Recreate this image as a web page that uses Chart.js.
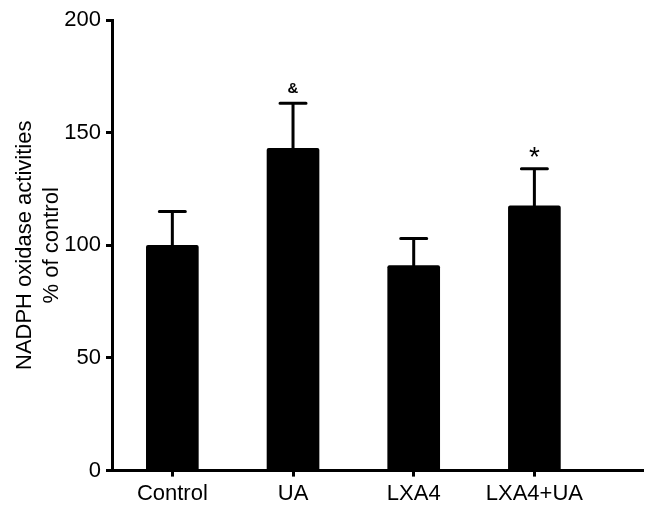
<!DOCTYPE html>
<html>
<head>
<meta charset="utf-8">
<script src="https://cdn.jsdelivr.net/npm/chart.js@4.4.1/dist/chart.umd.min.js"></script>
<style>
  html, body { margin: 0; padding: 0; background: #fff; }
  #wrap { width: 661px; height: 518px; }
</style>
</head>
<body>
<div id="wrap"><canvas id="myChart"></canvas></div>
<script>
// group names on the x axis
const categories = ['Control', 'UA', 'LXA4', 'LXA4+UA'];
// mean values, % of control
const means = [100, 143, 91, 117.5];
// upper error (SD)
const errors = [15, 20, 12, 16.5];
// significance marks above error bars
const marks = ['', '&', '', '*'];
// y axis tick values
const yTicks = [0, 50, 100, 150, 200];

const FONT = 'Liberation Sans, Arial, Helvetica, sans-serif';

// draws error bars + marks from the scales
const errorBarPlugin = {
    id: 'errorBars',
    afterDatasetsDraw(chart) {
        const ctx = chart.ctx;
        const xs = chart.scales.x;
        const ys = chart.scales.y;
        ctx.save();
        ctx.strokeStyle = '#000';
        ctx.lineWidth = 3;
        ctx.lineCap = 'round';
        means.forEach((m, i) => {
            const x = xs.getPixelForValue(i + 1);
            const yTop = ys.getPixelForValue(m);
            const yErr = ys.getPixelForValue(m + errors[i]);
            ctx.beginPath();
            ctx.moveTo(x, yTop);
            ctx.lineTo(x, yErr);
            ctx.moveTo(x - 13, yErr);
            ctx.lineTo(x + 13, yErr);
            ctx.stroke();
            if (marks[i]) {
                ctx.fillStyle = '#000';
                ctx.textAlign = 'center';
                ctx.textBaseline = 'middle';
                if (marks[i] === '*') {
                    ctx.font = '28px ' + FONT;
                    ctx.fillText(marks[i], x, yErr - 10);
                } else {
                    ctx.font = 'bold 15px ' + FONT;
                    ctx.fillText(marks[i], x, yErr - 15);
                }
            }
        });
        ctx.restore();
    }
};

const ctx = document.getElementById('myChart').getContext('2d');
new Chart(ctx, {
    type: 'bar',
    data: {
        datasets: [{
            data: means.map((m, i) => ({ x: i + 1, y: m })),
            backgroundColor: '#000',
            borderWidth: 0,
            borderRadius: 2,
            borderSkipped: 'bottom',
            barThickness: 52,
        }],
    },
    options: {
        responsive: true,
        maintainAspectRatio: false,
        animation: false,
        layout: { padding: { left: 0, right: 18, top: 20, bottom: 7 } },
        plugins: {
            legend: { display: false },
            tooltip: { enabled: false },
        },
        scales: {
            x: {
                type: 'linear',
                min: 0.5,
                max: 4.9,
                offset: false,
                afterBuildTicks: (scale) => {
                    scale.ticks = categories.map((c, i) => ({ value: i + 1 }));
                },
                ticks: {
                    color: '#000',
                    font: { family: FONT, size: 22 },
                    padding: 4,
                    callback: (v) => categories[v - 1],
                    maxRotation: 0,
                    autoSkip: false,
                },
                grid: {
                    offset: false,
                    drawOnChartArea: false,
                    drawTicks: true,
                    tickLength: 6,
                    tickWidth: 3,
                    tickColor: '#000',
                },
                border: { display: true, color: '#000', width: 3 },
            },
            y: {
                min: 0,
                max: 200,
                afterBuildTicks: (scale) => {
                    scale.ticks = yTicks.map((v) => ({ value: v }));
                },
                afterFit: (scale) => { scale.width = 112; },
                ticks: {
                    color: '#000',
                    font: { family: FONT, size: 22 },
                    padding: 5,
                },
                grid: {
                    drawOnChartArea: false,
                    drawTicks: true,
                    tickLength: 6,
                    tickWidth: 3,
                    tickColor: '#000',
                },
                border: { display: true, color: '#000', width: 3 },
                title: {
                    display: true,
                    text: ['NADPH oxidase activities', '% of control'],
                    color: '#000',
                    font: { family: FONT, size: 22, lineHeight: 1.2 },
                    padding: { top: 12, bottom: 0 },
                },
            },
        },
    },
    plugins: [errorBarPlugin],
});
</script>
</body>
</html>
